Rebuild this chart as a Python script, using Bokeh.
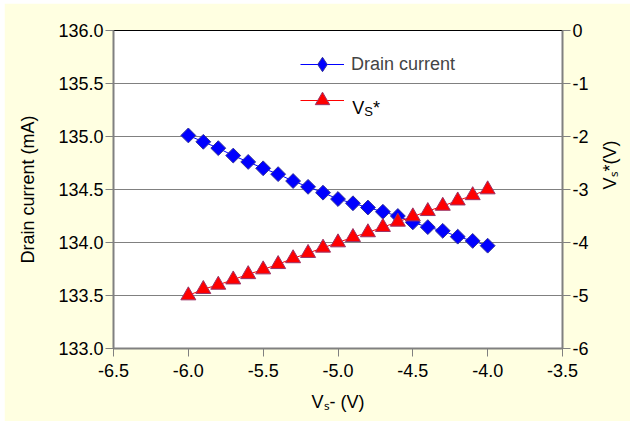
import numpy as np
from bokeh.plotting import figure
from bokeh.models import (Range1d, LinearAxis, FixedTicker, PrintfTickFormatter,
                          ColumnDataSource, Legend, LegendItem, Label, CDSView, IndexFilter)
from bokeh.embed import file_html
from bokeh.resources import INLINE

# Sweep of the negative supply voltage Vs- (V)
vs_minus = [-6.0, -5.9, -5.8, -5.7, -5.6, -5.5, -5.4, -5.3, -5.2, -5.1, -5.0,
            -4.9, -4.8, -4.7, -4.6, -4.5, -4.4, -4.3, -4.2, -4.1, -4.0]
# Drain current (mA), left axis
drain_current = [135.01, 134.95, 134.89, 134.82, 134.76, 134.70, 134.645, 134.58,
                 134.525, 134.47, 134.41, 134.37, 134.33, 134.29, 134.25, 134.19,
                 134.145, 134.11, 134.055, 134.015, 133.97]
# Vs* (V), right axis
vs_star = [-5.00, -4.88, -4.80, -4.70, -4.60, -4.51, -4.41, -4.30, -4.20, -4.10, -4.00,
           -3.90, -3.81, -3.71, -3.61, -3.51, -3.41, -3.31, -3.21, -3.11, -3.00]

left_ticks = [133.0, 133.5, 134.0, 134.5, 135.0, 135.5, 136.0]
right_ticks = [-6, -5, -4, -3, -2, -1, 0]
bottom_ticks = [-6.5, -6.0, -5.5, -5.0, -4.5, -4.0, -3.5]

FONT = "Liberation Sans"
BG = "#FFFFE1"
AXIS_GRAY = "#808080"
BLUE = "#0000FF"
RED = "#FF0000"

p = figure(frame_width=449, frame_height=318,
           x_range=Range1d(-6.5, -3.5), y_range=Range1d(133.0, 136.0),
           output_backend="svg", toolbar_location=None,
           min_border_left=109, min_border_right=68,
           min_border_top=27, min_border_bottom=73,
           margin=(3, 0, 0, 4))
p.border_fill_color = BG
p.background_fill_color = "white"
p.outline_line_color = "black"
p.outline_line_width = 1

p.extra_y_ranges = {"vs": Range1d(-6, 0)}
right_axis = LinearAxis(y_range_name="vs")
p.add_layout(right_axis, "right")

p.xaxis.ticker = FixedTicker(ticks=bottom_ticks)
p.xaxis.formatter = PrintfTickFormatter(format="%.1f")
p.yaxis[0].ticker = FixedTicker(ticks=left_ticks)
p.yaxis[0].formatter = PrintfTickFormatter(format="%.1f")
right_axis.ticker = FixedTicker(ticks=right_ticks)
right_axis.formatter = PrintfTickFormatter(format="%d")

for ax in [p.xaxis[0], p.yaxis[0], right_axis]:
    ax.axis_line_color = AXIS_GRAY
    ax.axis_line_width = 2
    ax.major_tick_line_color = AXIS_GRAY
    ax.major_tick_line_width = 1
    ax.major_tick_in = 0
    ax.major_tick_out = 8
    ax.minor_tick_line_color = None
    ax.major_label_text_font = FONT
    ax.major_label_text_font_size = "18px"
    ax.major_label_text_color = "black"
    ax.major_label_standoff = 2
    ax.axis_label_text_font = FONT
    ax.axis_label_text_font_size = "18px"
    ax.axis_label_text_font_style = "normal"
    ax.axis_label_text_color = "black"

p.xaxis[0].major_label_standoff = 7

p.yaxis[0].axis_label = "Drain current (mA)"
p.yaxis[0].axis_label_standoff = 17

p.xaxis[0].axis_label = "V\u209b- (V)"
p.xaxis[0].axis_label_standoff = 12

# right title reads upward
right_axis.axis_label = "V\u209b*(V)"
right_axis.axis_label_orientation = np.pi / 2
right_axis.axis_label_standoff = 18

p.xgrid.grid_line_color = None
p.ygrid.grid_line_color = "black"
p.ygrid.grid_line_dash = "1 1"
p.ygrid.grid_line_width = 1

src = ColumnDataSource(dict(x=vs_minus, i=drain_current, v=vs_star))

l1 = p.line("x", "i", source=src, line_color=BLUE, line_width=1)
# diamond swatch for the legend entry, tucked under the first plotted marker
sw1 = p.scatter("x", "i", source=src, marker="diamond", fill_color=BLUE,
                line_color="#333399", line_width=1,
                view=CDSView(filter=IndexFilter(indices=[0])))
m1 = p.scatter("x", "i", source=src, marker="square", angle=np.pi / 4, size=10.5,
               fill_color=BLUE, line_color="#333399", line_width=1)

l2 = p.line("x", "v", source=src, y_range_name="vs", line_color=RED, line_width=1)
m2 = p.scatter("x", "v", source=src, y_range_name="vs", marker="triangle", size=15,
               fill_color=RED, line_color="#993366", line_width=1)

legend = Legend(items=[LegendItem(label="Drain current", renderers=[l1, sw1]),
                       LegendItem(label=" ", renderers=[l2, m2])],
                location=(187, 230), padding=0, margin=0, spacing=0,
                glyph_width=44, glyph_height=36, label_height=36,
                label_standoff=7, border_line_color=None,
                background_fill_alpha=0,
                label_text_font=FONT, label_text_font_size="18px")
p.add_layout(legend)


def piece(text, x, y, size):
    p.add_layout(Label(x=x, y=y, x_units="screen", y_units="screen", text=text,
                       text_font=FONT, text_font_size=f"{size}px",
                       text_color="black", text_align="left",
                       text_baseline="alphabetic"))


# legend text "VS*" with a lowered S
piece("V", 238.7, 240.5, 18)
piece("S", 250.7, 237.0, 13)
piece("*", 259.4, 240.5, 18)

open("out.html", "w").write(file_html(p, INLINE))
